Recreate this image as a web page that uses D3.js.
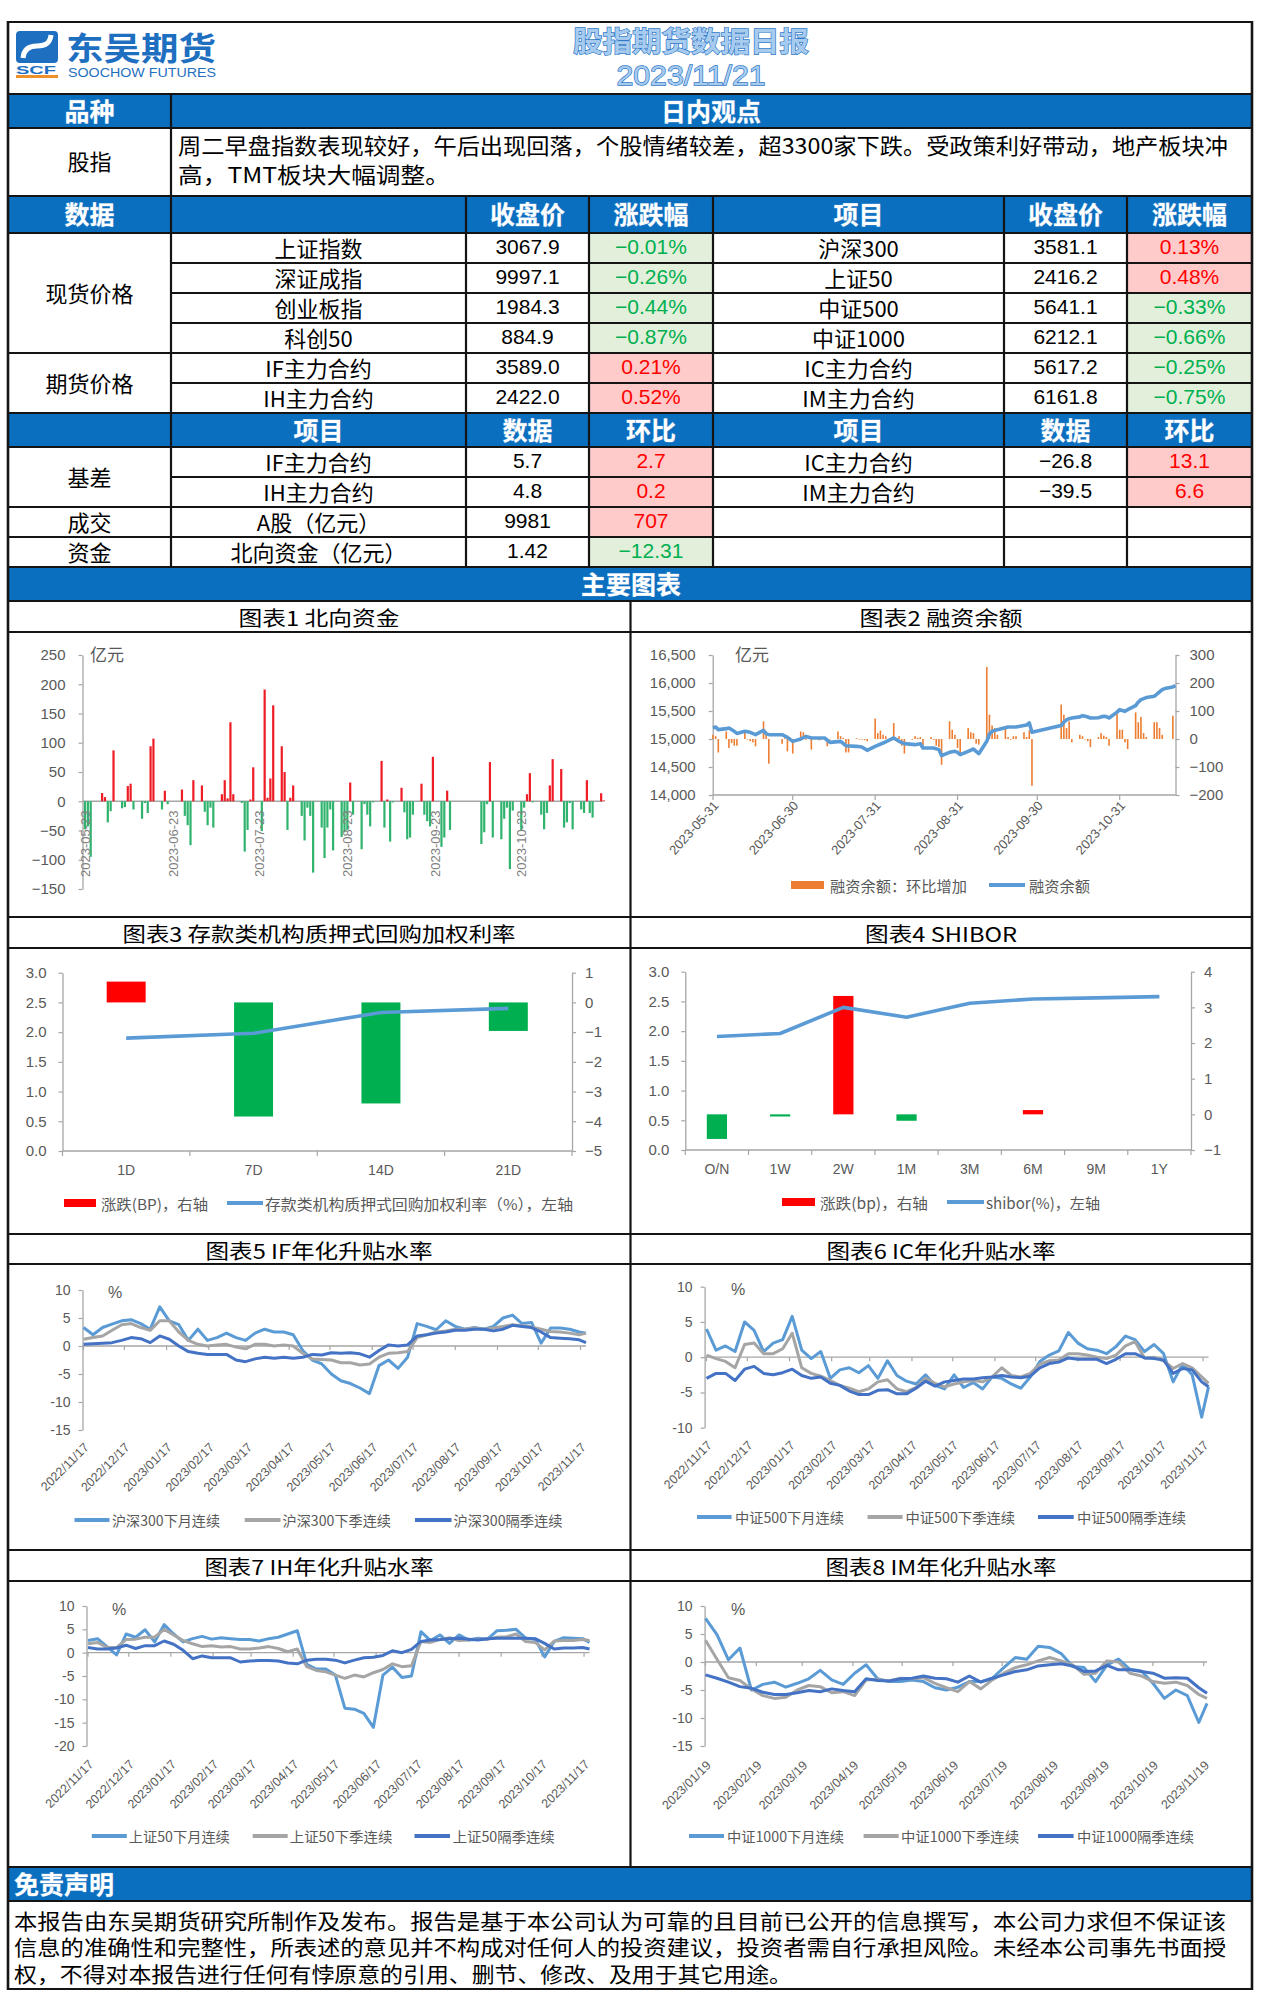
<!DOCTYPE html>
<html><head><meta charset="utf-8">
<script src="https://cdn.jsdelivr.net/npm/d3@7/dist/d3.min.js"></script>
<style>html,body{margin:0;padding:0;background:#fff;}svg{display:block;}</style>
</head><body>
<svg id="page" width="1262" height="2011" xmlns="http://www.w3.org/2000/svg"></svg>
<script>
// ======================= DATA =======================
// --- table
const spotL = ["上证指数","深证成指","创业板指","科创50"];
const spotLClose = [3067.9, 9997.1, 1984.3, 884.9];
const spotLChg = [-0.01, -0.26, -0.44, -0.87];
const spotR = ["沪深300","上证50","中证500","中证1000"];
const spotRClose = [3581.1, 2416.2, 5641.1, 6212.1];
const spotRChg = [0.13, 0.48, -0.33, -0.66];
const futL = ["IF主力合约","IH主力合约"];
const futLClose = [3589.0, 2422.0];
const futLChg = [0.21, 0.52];
const futR = ["IC主力合约","IM主力合约"];
const futRClose = [5617.2, 6161.8];
const futRChg = [-0.25, -0.75];
const basisL = ["IF主力合约","IH主力合约"];
const basisLVal = [5.7, 4.8];
const basisLChg = [2.7, 0.2];
const basisR = ["IC主力合约","IM主力合约"];
const basisRVal = [-26.8, -39.5];
const basisRChg = [13.1, 6.6];
const turnoverRow = ["A股（亿元）", 9981, 707];
const northRow = ["北向资金（亿元）", 1.42, -12.31];
const viewText1 = "周二早盘指数表现较好，午后出现回落，个股情绪较差，超3300家下跌。受政策利好带动，地产板块冲";
const viewText2 = "高，TMT板块大幅调整。";
const disclaimer = [
 "本报告由东吴期货研究所制作及发布。报告是基于本公司认为可靠的且目前已公开的信息撰写，本公司力求但不保证该",
 "信息的准确性和完整性，所表述的意见并不构成对任何人的投资建议，投资者需自行承担风险。未经本公司事先书面授",
 "权，不得对本报告进行任何有悖原意的引用、删节、修改、及用于其它用途。"];

// --- chart 1 北向资金 (2023, 亿元)
const northFlow = [
 ["05-23",-48],["05-24",-43],["05-25",-95],["05-29",14],["05-30",7],["05-31",-36],
 ["06-01",-17],["06-02",87],["06-05",-12],["06-06",-10],["06-07",26],["06-08",30],["06-09",-14],["06-12",-30],["06-13",-3],["06-14",-20],["06-15",94],["06-16",107],["06-19",-14],["06-20",18],["06-21",-5],["06-26",20],["06-27",-25],["06-28",-41],["06-29",-75],["06-30",36],
 ["07-03",27],["07-04",-18],["07-05",-41],["07-06",-11],["07-07",-45],["07-10",12],["07-11",36],["07-12",5],["07-13",135],["07-14",12],["07-17",-3],["07-18",-86],["07-19",-49],["07-20",3],["07-21",58],["07-24",-51],["07-25",191],["07-26",6],["07-27",39],["07-28",164],["07-31",94],
 ["08-01",50],["08-02",-49],["08-03",6],["08-04",27],["08-07",-25],["08-08",-67],["08-09",-11],["08-10",-25],["08-11",-122],["08-14",-45],["08-15",-97],["08-16",-45],["08-17",-14],["08-18",-84],["08-21",-61],["08-22",-53],["08-23",-49],["08-24",32],["08-25",-23],["08-28",-82],["08-29",-5],["08-30",-23],["08-31",-43],
 ["09-01",-2],["09-04",69],["09-05",-45],["09-06",3],["09-07",-69],["09-08",-2],["09-11",23],["09-12",-19],["09-13",-65],["09-14",-62],["09-15",-23],["09-18",30],["09-19",-23],["09-20",-34],["09-21",-43],["09-22",76],["09-25",-78],["09-26",-62],["09-27",18],["09-28",-49],
 ["10-09",-73],["10-10",-53],["10-11",-5],["10-12",67],["10-13",-62],["10-16",-65],["10-17",-30],["10-18",-11],["10-19",-116],["10-20",-16],["10-23",-49],["10-24",-11],["10-25",12],["10-26",48],["10-27",-2],["10-30",-23],["10-31",-48],
 ["11-01",-20],["11-02",27],["11-03",72],["11-06",55],["11-07",-45],["11-08",-36],["11-09",-3],["11-10",-48],["11-13",-14],["11-14",-20],["11-15",36],["11-16",-20],["11-17",-28],["11-20",13.73],["11-21",1.42]];
const northTicks = [-150,-100,-50,0,50,100,150,200,250];
const northLabels = ["2023-05-23","2023-06-23","2023-07-23","2023-08-23","2023-09-23","2023-10-23"];

// --- chart 2 融资余额 (2023)
const marginChg = [
 ["05-31",15],["06-01",10],["06-02",-48],["06-05",27],["06-06",-32],["06-07",-14],["06-08",-24],["06-09",-24],["06-12",27],["06-13",-2],["06-14",-8],["06-15",-12],["06-16",-26],["06-19",63],["06-20",27],["06-21",-88],["06-26",-17],["06-27",3],["06-28",-44],["06-29",5],["06-30",-52],
 ["07-03",27],["07-04",24],["07-05",-3],["07-06",2],["07-07",-38],["07-10",-5],["07-11",4],["07-12",2],["07-13",-26],["07-14",-2],["07-17",27],["07-18",10],["07-19",4],["07-20",-48],["07-21",-48],["07-24",3],["07-25",-2],["07-26",-2],["07-27",-4],["07-28",-8],["07-31",73],
 ["08-01",21],["08-02",30],["08-03",15],["08-04",10],["08-07",57],["08-08",3],["08-09",10],["08-10",-24],["08-11",-52],["08-14",-3],["08-15",10],["08-16",4],["08-17",7],["08-18",-24],["08-21",7],["08-22",-3],["08-23",-24],["08-24",-29],["08-25",-92],["08-28",63],["08-29",33],["08-30",15],["08-31",-32],
 ["09-01",-52],["09-04",39],["09-05",24],["09-06",21],["09-07",-17],["09-08",-20],["09-11",257],["09-12",87],["09-13",48],["09-14",39],["09-15",15],["09-18",39],["09-19",7],["09-20",-3],["09-21",10],["09-22",10],["09-25",24],["09-26",7],["09-27",31],["09-28",-167],
 ["10-09",123],["10-10",87],["10-11",39],["10-12",63],["10-13",-12],["10-16",15],["10-17",10],["10-18",-2],["10-19",-8],["10-20",-29],["10-23",7],["10-24",21],["10-25",12],["10-26",7],["10-27",-24],["10-30",102],["10-31",33],
 ["11-01",33],["11-02",-12],["11-03",-36],["11-06",95],["11-07",60],["11-08",79],["11-09",21],["11-10",7],["11-13",60],["11-14",60],["11-15",39],["11-16",15],["11-17",0],["11-20",83]];
const marginBal = [
 ["05-31",15196],["06-01",15214],["06-02",15167],["06-05",15185],["06-06",15196],["06-08",15137],["06-09",15100],["06-12",15137],["06-14",15119],["06-16",15077],["06-19",15155],["06-20",15095],["06-21",15077],["06-26",15077],["06-28",15030],["06-30",14958],
 ["07-03",15000],["07-05",15047],["07-07",15018],["07-12",15018],["07-14",14940],["07-18",14958],["07-20",14880],["07-24",14869],["07-26",14857],["07-28",14798],["07-31",14869],
 ["08-03",14928],["08-07",15018],["08-09",14958],["08-11",14917],["08-15",14899],["08-17",14917],["08-18",14839],["08-22",14839],["08-24",14810],["08-25",14702],["08-28",14762],["08-30",14780],["08-31",14760],
 ["09-01",14720],["09-04",14780],["09-06",14821],["09-08",14738],["09-11",14958],["09-12",15090],["09-13",15137],["09-15",15167],["09-19",15214],["09-22",15214],["09-26",15250],["09-27",15286],["09-28",15119],
 ["10-09",15240],["10-10",15300],["10-11",15340],["10-12",15363],["10-13",15375],["10-16",15395],["10-17",15417],["10-18",15405],["10-19",15393],["10-20",15375],["10-23",15380],["10-24",15395],["10-25",15405],["10-26",15400],["10-27",15375],["10-30",15480],["10-31",15524],
 ["11-01",15510],["11-02",15494],["11-03",15524],["11-06",15595],["11-07",15660],["11-08",15702],["11-09",15720],["11-10",15740],["11-13",15762],["11-14",15800],["11-15",15840],["11-16",15881],["11-17",15900],["11-20",15930],["11-21",15952]];
const marginLeftTicks = [14000,14500,15000,15500,16000,16500];
const marginRightTicks = [-200,-100,0,100,200,300];
const marginLabels = ["2023-05-31","2023-06-30","2023-07-31","2023-08-31","2023-09-30","2023-10-31"];

// --- chart 3 存款类机构质押式回购加权利率
const drTerms = ["1D","7D","14D","21D"];
const drRate = [1.90, 1.98, 2.33, 2.40];
const drChg = [0.70, -3.84, -3.40, -0.96];

// --- chart 4 SHIBOR
const shTerms = ["O/N","1W","2W","1M","3M","6M","9M","1Y"];
const shRate = [1.91, 1.96, 2.40, 2.235, 2.47, 2.54, 2.56, 2.58];
const shChg = [-0.69, -0.06, 3.32, -0.18, 0, 0.12, 0, 0];

// --- charts 5-7 weekly sample dates
const futDates = ["2022-11-17","2022-11-24","2022-12-01","2022-12-08","2022-12-15","2022-12-22","2022-12-29",
 "2023-01-05","2023-01-12","2023-01-19","2023-01-26","2023-02-02","2023-02-09","2023-02-16","2023-02-23",
 "2023-03-02","2023-03-09","2023-03-16","2023-03-23","2023-03-30","2023-04-06","2023-04-13","2023-04-20","2023-04-27",
 "2023-05-04","2023-05-11","2023-05-18","2023-05-25","2023-06-01","2023-06-08","2023-06-15","2023-06-22","2023-06-29",
 "2023-07-06","2023-07-13","2023-07-20","2023-07-27","2023-08-03","2023-08-10","2023-08-17","2023-08-24","2023-08-31",
 "2023-09-07","2023-09-14","2023-09-21","2023-09-28","2023-10-05","2023-10-12","2023-10-19","2023-10-26",
 "2023-11-02","2023-11-09","2023-11-16","2023-11-21"];
const futLabels = ["2022-11-17","2022-12-17","2023-01-17","2023-02-17","2023-03-17","2023-04-17","2023-05-17",
 "2023-06-17","2023-07-17","2023-08-17","2023-09-17","2023-10-17","2023-11-17"];
const ifNext = [3.3,2.0,3.3,3.9,4.5,4.7,4.0,3.0,7.0,4.5,3.8,1.0,3.0,1.0,1.5,2.3,1.5,1.0,2.3,3.0,2.5,2.5,2.0,-0.8,-2.5,-3.2,-5.0,-6.2,-6.7,-7.5,-8.5,-3.5,-2.5,-4.0,-2.0,4.0,3.5,2.9,4.5,3.5,3.0,3.3,3.0,3.5,5.0,5.5,4.0,4.2,0.5,3.2,3.2,3.0,2.5,2.3];
const ifQtr = [1.2,1.5,1.8,2.8,3.8,4.0,3.3,2.8,4.5,4.5,2.5,1.0,0.3,0.0,0.2,0.3,-0.2,-0.5,0.3,0.3,0.0,0.2,0.0,-1.3,-2.3,-2.4,-2.5,-3.0,-3.0,-3.4,-3.2,-2.0,-1.3,-1.2,-1.0,1.5,2.0,2.5,2.7,3.0,3.0,3.2,3.0,3.2,3.5,3.8,3.6,3.4,3.0,2.6,2.5,2.3,2.0,2.3];
const ifFar = [0.3,0.4,0.5,0.6,1.0,1.5,1.3,0.6,1.8,1.2,0.0,-1.0,-1.3,-1.5,-1.5,-1.5,-2.5,-2.8,-2.3,-2.0,-2.2,-2.0,-2.2,-2.0,-1.5,-1.6,-1.2,-1.3,-1.2,-1.4,-2.0,-0.8,0.2,0.0,0.2,1.8,2.0,2.3,2.5,2.8,2.8,3.0,3.0,2.7,3.0,3.7,3.5,3.3,2.5,1.5,1.4,1.3,1.1,0.6];
const icNext = [4.0,1.0,1.6,0.8,5.0,3.8,0.8,2.0,2.5,5.8,1.0,-0.2,0.8,-3.0,-1.8,-1.5,-2.2,-1.2,-3.0,-0.5,-2.6,-3.4,-3.8,-2.5,-4.0,-4.5,-2.5,-4.3,-3.6,-4.5,-2.8,-3.0,-3.8,-4.4,-2.8,-0.6,0.3,0.9,3.5,2.0,1.2,1.0,0.5,1.5,3.0,2.5,0.8,1.8,0.5,-3.5,-1.0,-2.5,-8.5,-4.2];
const icQtr = [0.3,-0.2,-0.6,-1.5,1.8,2.0,0.5,0.5,1.2,3.4,-1.5,-2.3,-2.7,-3.3,-4.0,-4.4,-4.9,-4.5,-3.5,-3.2,-4.5,-4.9,-4.3,-3.0,-3.7,-4.2,-3.8,-3.5,-3.3,-3.5,-2.8,-1.5,-2.6,-2.8,-2.3,-1.0,-0.5,-0.4,0.5,0.5,0.3,0.0,-0.2,0.3,1.6,2.2,-0.1,0.0,-0.5,-1.6,-0.9,-1.5,-2.8,-3.7];
const icFar = [-3.0,-2.3,-2.3,-3.3,-1.7,-1.3,-2.3,-2.5,-2.2,-1.7,-2.6,-3.0,-2.8,-3.7,-4.0,-4.8,-5.3,-5.3,-4.7,-4.6,-5.2,-5.2,-4.4,-3.4,-4.1,-3.5,-3.3,-3.1,-3.1,-2.9,-2.8,-2.6,-2.8,-2.9,-2.7,-1.5,-0.9,-0.7,-0.1,-0.3,-0.3,-0.3,-0.9,-0.3,0.5,0.5,-0.1,-0.2,-0.4,-2.3,-1.6,-1.8,-3.5,-4.2];
const ihNext = [2.6,3.0,1.3,-0.5,4.0,3.3,4.9,2.3,6.0,4.0,2.3,3.0,3.5,2.9,3.2,3.0,2.8,2.8,2.5,3.0,3.3,4.0,4.7,-2.5,-3.5,-3.5,-4.8,-11.9,-12.1,-13.0,-16.0,-4.8,-3.1,-5.3,-5.0,4.5,2.6,3.8,2.0,3.8,2.7,3.1,2.9,4.7,4.8,5.0,3.1,2.9,-0.9,2.4,3.2,3.1,3.0,2.2];
const ihQtr = [1.9,2.2,1.1,1.1,2.8,2.9,3.3,3.3,5.0,3.8,2.6,1.9,1.3,1.5,1.2,1.3,0.8,0.8,1.0,1.3,0.9,0.2,0.8,-3.0,-3.8,-4.1,-4.8,-5.5,-4.8,-5.2,-4.3,-3.6,-2.4,-3.0,-2.8,2.4,2.2,2.8,3.2,2.6,2.7,2.9,2.9,3.3,3.4,4.0,2.4,2.2,0.6,2.5,2.6,2.6,2.8,2.6];
const ihFar = [1.1,0.8,0.8,1.0,1.6,0.9,1.5,1.5,2.5,1.8,0.5,-1.3,-0.7,-1.1,-1.1,-1.1,-2.0,-1.8,-1.7,-1.7,-1.8,-2.2,-2.4,-1.6,-1.4,-1.4,-1.6,-2.2,-1.6,-1.1,-1.0,-0.6,0.4,0.0,0.7,2.4,2.7,2.8,3.0,3.1,2.9,2.7,3.0,3.1,3.1,3.1,3.1,3.0,2.0,0.8,1.0,1.0,1.1,0.8];

// --- chart 8 weekly sample dates
const imDates = ["2023-01-19","2023-01-26","2023-02-02","2023-02-09","2023-02-16","2023-02-23",
 "2023-03-02","2023-03-09","2023-03-16","2023-03-23","2023-03-30","2023-04-06","2023-04-13","2023-04-20","2023-04-27",
 "2023-05-04","2023-05-11","2023-05-18","2023-05-25","2023-06-01","2023-06-08","2023-06-15","2023-06-22","2023-06-29",
 "2023-07-06","2023-07-13","2023-07-20","2023-07-27","2023-08-03","2023-08-10","2023-08-17","2023-08-24","2023-08-31",
 "2023-09-07","2023-09-14","2023-09-21","2023-09-28","2023-10-05","2023-10-12","2023-10-19","2023-10-26",
 "2023-11-02","2023-11-09","2023-11-16","2023-11-21"];
const imLabels = ["2023-01-19","2023-02-19","2023-03-19","2023-04-19","2023-05-19","2023-06-19","2023-07-19",
 "2023-08-19","2023-09-19","2023-10-19","2023-11-19"];
const imNext = [7.8,4.9,0.4,2.5,-5.0,-4.0,-3.6,-4.5,-3.8,-3.0,-1.5,-3.2,-4.0,-2.0,-0.5,-3.0,-3.5,-3.5,-3.2,-3.5,-4.6,-5.0,-4.5,-3.5,-3.5,-2.9,-1.0,0.8,0.5,2.8,2.6,1.5,-0.8,-1.0,-3.5,-0.5,0.5,-1.3,-1.6,-3.8,-6.5,-5.0,-6.0,-10.8,-7.4];
const imQtr = [3.9,0.5,-2.8,-3.3,-4.8,-6.0,-6.5,-6.3,-5.0,-4.2,-4.4,-5.5,-5.3,-6.0,-3.2,-3.1,-3.4,-2.9,-3.0,-2.8,-3.8,-4.6,-5.3,-3.5,-4.8,-3.2,-2.0,-1.0,-0.5,0.2,0.8,0.2,-0.5,-2.2,-2.0,0.2,0.0,-2.0,-2.5,-3.5,-3.8,-3.6,-4.2,-5.8,-6.5];
const imFar = [-2.3,-2.9,-3.6,-4.4,-4.7,-5.4,-5.8,-5.8,-5.5,-5.1,-5.3,-4.8,-5.1,-5.3,-3.0,-3.3,-3.4,-3.0,-2.9,-2.5,-2.9,-3.0,-3.6,-2.5,-3.6,-2.9,-2.3,-1.7,-1.4,-0.7,-0.5,-0.3,-0.7,-1.7,-1.6,-0.6,-1.4,-1.4,-1.7,-2.0,-2.9,-2.8,-2.9,-4.6,-5.6];

// ======================= DRAWING =======================
const parse = d3.timeParse("%Y-%m-%d");
const CJK = "'Noto Sans CJK SC','Noto Sans',sans-serif";
const LAT = "'Liberation Sans','Noto Sans CJK SC',sans-serif";
const BLUE = "#0b6fc0", AXC = "#a6a6a6", LBL = "#595959";
const C_NEXT = "#5b9bd5", C_QTR = "#a5a5a5", C_FAR = "#4472c4";
const svg = d3.select("#page");
svg.append("rect").attr("width",1262).attr("height",2011).attr("fill","#fff");

function T(p, x, y, s, o = {}) {
  const t = p.append("text").attr("x", x).attr("y", y).text(s)
    .attr("font-family", o.ff || CJK).attr("font-size", o.fs || 22)
    .attr("fill", o.fill || "#000").attr("text-anchor", o.anchor || "middle")
    .attr("dominant-baseline", "central");
  if (o.fw) t.attr("font-weight", o.fw);
  if (o.tl) t.attr("textLength", o.tl).attr("lengthAdjust", "spacingAndGlyphs");
  if (o.stroke) t.attr("stroke", o.stroke).attr("stroke-width", o.sw || 1).attr("paint-order","stroke");
  return t;
}
function R(p, x, y, w, h, fill) { return p.append("rect").attr("x", x).attr("y", y).attr("width", w).attr("height", h).attr("fill", fill); }
function L(p, x1, y1, x2, y2, stroke, sw) { return p.append("line").attr("x1", x1).attr("y1", y1).attr("x2", x2).attr("y2", y2).attr("stroke", stroke).attr("stroke-width", sw); }
const fmtSigned = (v, d) => (v < 0 ? "−" : "") + Math.abs(v).toFixed(d);

// ---------- header ----------
const logo = svg.append("g");
R(logo, 16, 31, 42, 32, "#1f6fc1").attr("rx", 4);
logo.append("path").attr("d", "M23,58 C24,47 32,46 37,46 C43,46 50,45 51,35").attr("fill", "none").attr("stroke", "#fff").attr("stroke-width", 5);
T(logo, 16, 70, "SCF", { ff: LAT, fs: 11, fw: "bold", fill: "#1f6fc1", anchor: "start", tl: 40 });
R(logo, 16, 75, 42, 3, "#f0902a");
T(logo, 66, 46, "东吴期货", { fs: 32, fw: "bold", fill: "#1f6fc1", anchor: "start", tl: 150 });
T(logo, 68, 73, "SOOCHOW FUTURES", { ff: LAT, fs: 12, fill: "#1f6fc1", anchor: "start", tl: 148 });
T(svg, 691, 40, "股指期货数据日报", { fs: 28, fw: "bold", fill: "#a7cbef", stroke: "#2f78c6", sw: 1.3, tl: 236 });
T(svg, 691, 75, "2023/11/21", { ff: LAT, fs: 28, fill: "#a7cbef", stroke: "#2f78c6", sw: 1.3, tl: 149 });

// ---------- table ----------
const colX = [8, 171, 466, 589, 713, 1004, 1127, 1252];
const colC = colX.slice(0, -1).map((x, i) => (x + colX[i + 1]) / 2);
const rowY = [196, 233, 263, 293, 323, 353, 383, 413, 447, 477, 507, 537, 567];
const rowC = rowY.slice(0, -1).map((y, i) => (y + rowY[i + 1]) / 2 - 1.5);

R(svg, 8, 94, 1244, 34, BLUE);
R(svg, 8, 196, 1244, 37, BLUE);
R(svg, 8, 413, 1244, 34, BLUE);
R(svg, 8, 567, 1244, 34, BLUE);
R(svg, 8, 1867, 1244, 34, BLUE);

const HW = { fs: 25, fw: "bold", fill: "#fff", stroke: "#5b9bd5", sw: 0.8 };
T(svg, colC[0], 110, "品种", HW);
T(svg, 711, 110, "日内观点", HW);
T(svg, colC[0], 160, "股指", { fs: 22 });
T(svg, 178, 144, viewText1, { fs: 22, anchor: "start", tl: 1050 });
T(svg, 178, 173, viewText2, { fs: 22, anchor: "start", tl: 272 });

["数据", "", "收盘价", "涨跌幅", "项目", "收盘价", "涨跌幅"].forEach((s, i) => s && T(svg, colC[i], rowC[0], s, HW));
["", "项目", "数据", "环比", "项目", "数据", "环比"].forEach((s, i) => s && T(svg, colC[i], rowC[7], s, HW));

function chgCell(ci, ri, v, txt) {
  const pos = v >= 0;
  R(svg, colX[ci] + 1, rowY[ri] + 1, colX[ci + 1] - colX[ci] - 2, rowY[ri + 1] - rowY[ri] - 2, pos ? "#ffcaca" : "#e2efda");
  T(svg, colC[ci], rowC[ri], txt, { ff: LAT, fs: 21, fill: pos ? "#ff0000" : "#00b050" });
}
const cellTxt = (ci, ri, s, lat) => T(svg, colC[ci], rowC[ri], s, { ff: lat ? LAT : CJK, fs: lat ? 21 : 22 });

spotL.forEach((n, i) => {
  cellTxt(1, 1 + i, n); cellTxt(2, 1 + i, spotLClose[i].toFixed(1), true);
  chgCell(3, 1 + i, spotLChg[i], fmtSigned(spotLChg[i], 2) + "%");
  cellTxt(4, 1 + i, spotR[i]); cellTxt(5, 1 + i, spotRClose[i].toFixed(1), true);
  chgCell(6, 1 + i, spotRChg[i], fmtSigned(spotRChg[i], 2) + "%");
});
futL.forEach((n, i) => {
  cellTxt(1, 5 + i, n); cellTxt(2, 5 + i, futLClose[i].toFixed(1), true);
  chgCell(3, 5 + i, futLChg[i], fmtSigned(futLChg[i], 2) + "%");
  cellTxt(4, 5 + i, futR[i]); cellTxt(5, 5 + i, futRClose[i].toFixed(1), true);
  chgCell(6, 5 + i, futRChg[i], fmtSigned(futRChg[i], 2) + "%");
});
basisL.forEach((n, i) => {
  cellTxt(1, 8 + i, n); cellTxt(2, 8 + i, fmtSigned(basisLVal[i], 1), true);
  chgCell(3, 8 + i, basisLChg[i], fmtSigned(basisLChg[i], 1));
  cellTxt(4, 8 + i, basisR[i]); cellTxt(5, 8 + i, fmtSigned(basisRVal[i], 1), true);
  chgCell(6, 8 + i, basisRChg[i], fmtSigned(basisRChg[i], 1));
});
cellTxt(1, 10, turnoverRow[0]); cellTxt(2, 10, String(turnoverRow[1]), true); chgCell(3, 10, turnoverRow[2], String(turnoverRow[2]));
cellTxt(1, 11, northRow[0]); cellTxt(2, 11, northRow[1].toFixed(2), true); chgCell(3, 11, northRow[2], fmtSigned(northRow[2], 2));
T(svg, colC[0], (rowY[1] + rowY[5]) / 2 - 1.5, "现货价格", { fs: 22 });
T(svg, colC[0], (rowY[5] + rowY[7]) / 2 - 1.5, "期货价格", { fs: 22 });
T(svg, colC[0], (rowY[8] + rowY[10]) / 2 - 1.5, "基差", { fs: 22 });
T(svg, colC[0], rowC[10], "成交", { fs: 22 });
T(svg, colC[0], rowC[11], "资金", { fs: 22 });
T(svg, 631, 583, "主要图表", HW);
T(svg, 14, 1883, "免责声明", { fs: 25, fw: "bold", fill: "#fff", stroke: "#5b9bd5", sw: 0.8, anchor: "start" });
[1920, 1946, 1973].forEach((y, i) => T(svg, 14, y, disclaimer[i], { fs: 21, anchor: "start", tl: i < 2 ? 1212 : 778 }));

// grid lines
const BK = "#141414";
[22, 94, 128, 196, 233, 353, 413, 447, 507, 537, 567, 601, 632, 917, 948, 1234, 1264, 1550, 1581, 1867, 1901, 1989]
  .forEach(y => L(svg, 8, y, 1252, y, BK, 2.2));
[263, 293, 323, 383, 477].forEach(y => L(svg, 171, y, 1252, y, BK, 2.2));
L(svg, 8, 21, 8, 1990, BK, 2.6); L(svg, 1252, 21, 1252, 1990, BK, 2.6);
L(svg, 171, 94, 171, 567, BK, 2.2);
[466, 589, 713, 1004, 1127].forEach(x => L(svg, x, 196, x, 567, BK, 2.2));
L(svg, 630.5, 601, 630.5, 1867, BK, 2.2);

// chart titles
[[319, 617, "图表1 北向资金", 161], [941, 617, "图表2 融资余额", 163],
 [319, 933, "图表3 存款类机构质押式回购加权利率", 393], [941, 933, "图表4 SHIBOR", 152],
 [319, 1250, "图表5 IF年化升贴水率", 227], [941, 1250, "图表6 IC年化升贴水率", 229],
 [319, 1566, "图表7 IH年化升贴水率", 229], [941, 1566, "图表8 IM年化升贴水率", 231]]
  .forEach(([x, y, s, w]) => T(svg, x, y, s, { fs: 20, tl: w }));

// ---------- axis helper ----------
function yAxis(p, scale, x, side, ticks, fmt, pad, fs) {
  const ax = (side === "left" ? d3.axisLeft(scale) : d3.axisRight(scale))
    .tickValues(ticks).tickFormat(fmt).tickSize(4).tickSizeOuter(0).tickPadding(pad);
  const a = p.append("g").attr("transform", `translate(${x},0)`).call(ax);
  a.select(".domain").attr("stroke", AXC).attr("stroke-width", 1.3);
  a.selectAll(".tick line").attr("stroke", AXC).attr("stroke-width", 1.2);
  a.selectAll(".tick text").attr("fill", LBL).attr("font-family", LAT).attr("font-size", fs);
  return a;
}
const minusFmt = d => (d < 0 ? "−" : "") + Math.abs(d);

// ---------- chart 1 ----------
{
  const g = svg.append("g");
  const x = d3.scaleTime().domain([parse("2023-05-23"), parse("2023-11-21")]).range([85, 604]);
  const y = d3.scaleLinear().domain([-150, 250]).range([889, 655]);
  yAxis(g, y, 82.5, "left", northTicks, minusFmt, 13, 15);
  L(g, 82.5, y(0), 603, y(0), AXC, 1.3);
  g.selectAll(".nb").data(northFlow).enter().append("rect")
    .attr("x", d => x(parse("2023-" + d[0])) - 1.1).attr("width", 2.2)
    .attr("y", d => y(Math.max(0, d[1]))).attr("height", d => Math.abs(y(d[1]) - y(0)))
    .attr("fill", d => d[1] >= 0 ? "#ee1c25" : "#2fb36d");
  g.selectAll(".nbl").data(northLabels).enter().append("text")
    .attr("transform", d => `translate(${x(parse(d))},877) rotate(-90)`).attr("dy", "0.35em")
    .attr("text-anchor", "start").attr("font-family", LAT).attr("font-size", 13).attr("fill", "#7f7f7f").text(d => d);
  T(g, 90, 653, "亿元", { fs: 17, fill: LBL, anchor: "start" });
}

// ---------- chart 2 ----------
{
  const g = svg.append("g");
  const x = d3.scaleTime().domain([parse("2023-05-31"), parse("2023-11-21")]).range([713, 1175.5]);
  const yl = d3.scaleLinear().domain([14000, 16500]).range([795, 655]);
  const yr = d3.scaleLinear().domain([-200, 300]).range([795, 655]);
  yAxis(g, yl, 712.7, "left", marginLeftTicks, d3.format(","), 13, 15);
  yAxis(g, yr, 1175.5, "right", marginRightTicks, minusFmt, 10, 15);
  L(g, 712.7, 795, 1175.5, 795, AXC, 1.3);
  marginLabels.forEach(d => L(g, x(parse(d)), 795, x(parse(d)), 800, AXC, 1.2));
  g.selectAll(".mc").data(marginChg).enter().append("rect")
    .attr("x", d => x(parse("2023-" + d[0])) - 0.8).attr("width", 1.6)
    .attr("y", d => yr(Math.max(0, d[1]))).attr("height", d => Math.abs(yr(d[1]) - yr(0)))
    .attr("fill", "#ed7d31");
  g.append("path").datum(marginBal).attr("fill", "none").attr("stroke", C_NEXT).attr("stroke-width", 3.6)
    .attr("stroke-linejoin", "round")
    .attr("d", d3.line().x(d => x(parse("2023-" + d[0]))).y(d => yl(d[1])));
  g.selectAll(".ml").data(marginLabels).enter().append("text")
    .attr("transform", d => `translate(${x(parse(d)) + 3},803) rotate(-48)`).attr("dy", "0.35em")
    .attr("text-anchor", "end").attr("font-family", LAT).attr("font-size", 13).attr("fill", LBL).text(d => d);
  T(g, 735, 653, "亿元", { fs: 17, fill: LBL, anchor: "start" });
  R(g, 791, 881, 33, 8, "#ed7d31");
  T(g, 830, 885, "融资余额：环比增加", { fs: 15, fill: LBL, anchor: "start", tl: 137 });
  L(g, 989, 885, 1025, 885, C_NEXT, 4);
  T(g, 1029, 885, "融资余额", { fs: 15, fill: LBL, anchor: "start", tl: 61 });
}

// ---------- bar+line category chart helper (charts 3,4) ----------
function catChart(o) {
  const g = svg.append("g");
  const x = d3.scaleBand().domain(o.cats).range([o.x0, o.x1]);
  const yl = d3.scaleLinear().domain([0, 3]).range([o.yb, o.yt]);
  const yr = d3.scaleLinear().domain(o.rDom).range([o.yb, o.yt]);
  yAxis(g, yl, o.x0, "left", [0, 0.5, 1, 1.5, 2, 2.5, 3], d3.format(".1f"), 12, 15);
  yAxis(g, yr, o.x1, "right", d3.range(o.rDom[0], o.rDom[1] + 1), minusFmt, 9, 15);
  L(g, o.x0, o.yb, o.x1, o.yb, AXC, 1.3);
  d3.range(o.cats.length + 1).forEach(i => { const xx = o.x0 + i * x.bandwidth(); L(g, xx, o.yb, xx, o.yb + 5, AXC, 1.2); });
  const bw = x.bandwidth() * o.barFrac;
  g.selectAll(".b").data(o.cats).enter().append("rect")
    .attr("x", d => x(d) + x.bandwidth() / 2 - bw / 2).attr("width", bw)
    .attr("y", (d, i) => yr(Math.max(0, o.chg[i]))).attr("height", (d, i) => Math.abs(yr(o.chg[i]) - yr(0)))
    .attr("fill", (d, i) => o.chg[i] >= 0 ? "#ff0000" : "#00b050");
  g.append("path").datum(o.cats).attr("fill", "none").attr("stroke", C_NEXT).attr("stroke-width", 3.6)
    .attr("stroke-linejoin", "round")
    .attr("d", d3.line().x(d => x(d) + x.bandwidth() / 2).y((d, i) => yl(o.rate[i])));
  o.cats.forEach(c => T(g, x(c) + x.bandwidth() / 2, o.yb + 19, c, { ff: LAT, fs: 14, fill: LBL }));
  const lg = o.legend;
  R(g, lg[0], lg[4] - 4, lg[1] - lg[0], 8, "#ff0000");
  T(g, lg[1] + 5, lg[4], o.lt1, { fs: 15, fill: LBL, anchor: "start", tl: lg[2] - lg[1] - 5 });
  L(g, lg[2] + 19, lg[4], lg[3] - 2, lg[4], C_NEXT, 4);
  T(g, lg[3], lg[4], o.lt2, { fs: 15, fill: LBL, anchor: "start", tl: o.lt2w });
}
catChart({ cats: drTerms, rate: drRate, chg: drChg, x0: 62.5, x1: 572, yb: 1151, yt: 972.7, rDom: [-5, 1], barFrac: 0.306,
  legend: [64, 96, 208, 265, 1203], lt1: "涨跌(BP)，右轴", lt2: "存款类机构质押式回购加权利率（%），左轴", lt2w: 308 });
catChart({ cats: shTerms, rate: shRate, chg: shChg, x0: 685.3, x1: 1191, yb: 1150, yt: 971.7, rDom: [-1, 4], barFrac: 0.32,
  legend: [782, 815, 928, 986, 1202], lt1: "涨跌(bp)，右轴", lt2: "shibor(%)，左轴", lt2w: 114 });

// ---------- time-series charts 5-8 ----------
function tsChart(o) {
  const g = svg.append("g");
  const x = d3.scaleTime().domain([parse(o.dates[0]), parse(o.dates[o.dates.length - 1])]).range([o.x0, o.x1]);
  const y = d3.scaleLinear().domain(o.yDom).range(o.yRng);
  yAxis(g, y, o.axisX, "left", d3.range(o.yDom[0], o.yDom[1] + 1, 5), d => String(d), 8, 14);
  L(g, o.axisX, y(0), o.x1, y(0), AXC, 1.3);
  o.labels.forEach(d => L(g, x(parse(d)), y(0), x(parse(d)), y(0) + 4, AXC, 1.2));
  g.selectAll(".tl").data(o.labels).enter().append("text")
    .attr("transform", d => `translate(${x(parse(d)) + 3},${o.labelY}) rotate(-45)`).attr("dy", "0.35em")
    .attr("text-anchor", "end").attr("font-family", LAT).attr("font-size", 12.5).attr("fill", LBL)
    .text(d => d.replace(/-/g, "/"));
  const line = d3.line().x(d => x(d[0])).y(d => y(d[1])).curve(d3.curveLinear);
  o.series.forEach(s => {
    g.append("path").datum(o.dates.map((d, i) => [parse(d), s.vals[i]]))
      .attr("fill", "none").attr("stroke", s.color).attr("stroke-width", 3).attr("stroke-linejoin", "round")
      .attr("d", line);
  });
  T(g, o.pct[0], o.pct[1], "%", { ff: LAT, fs: 16, fill: LBL, anchor: "start" });
  o.series.forEach((s, i) => {
    const lg = o.legend[i];
    L(g, lg[0], o.legendY, lg[1], o.legendY, s.color, 4);
    T(g, lg[2], o.legendY, s.name, { fs: 14, fill: LBL, anchor: "start", tl: lg[3] });
  });
}
tsChart({ dates: futDates, labels: futLabels, x0: 83.5, x1: 586, axisX: 82.5, yDom: [-15, 10], yRng: [1430, 1290], labelY: 1445,
  pct: [108, 1292], legendY: 1520,
  series: [{ vals: ifNext, color: C_NEXT, name: "沪深300下月连续" }, { vals: ifQtr, color: C_QTR, name: "沪深300下季连续" }, { vals: ifFar, color: C_FAR, name: "沪深300隔季连续" }],
  legend: [[74.5, 109.5, 112, 108], [244.7, 280.5, 282.5, 108.5], [415, 451.5, 453.5, 109]] });
tsChart({ dates: futDates, labels: futLabels, x0: 706.5, x1: 1208.5, axisX: 704.6, yDom: [-10, 10], yRng: [1427.7, 1286.7], labelY: 1443,
  pct: [731, 1289], legendY: 1517,
  series: [{ vals: icNext, color: C_NEXT, name: "中证500下月连续" }, { vals: icQtr, color: C_QTR, name: "中证500下季连续" }, { vals: icFar, color: C_FAR, name: "中证500隔季连续" }],
  legend: [[697, 731.6, 735, 109], [867.6, 902.6, 905.5, 109.5], [1038, 1073.7, 1077, 109]] });
tsChart({ dates: futDates, labels: futLabels, x0: 88, x1: 589.5, axisX: 86.5, yDom: [-20, 10], yRng: [1746, 1606], labelY: 1762,
  pct: [112, 1609], legendY: 1836,
  series: [{ vals: ihNext, color: C_NEXT, name: "上证50下月连续" }, { vals: ihQtr, color: C_QTR, name: "上证50下季连续" }, { vals: ihFar, color: C_FAR, name: "上证50隔季连续" }],
  legend: [[91.8, 126.8, 128.8, 101], [252.7, 287.7, 289.7, 102.7], [414.5, 450, 452.7, 102]] });
tsChart({ dates: imDates, labels: imLabels, x0: 705.5, x1: 1207, axisX: 704.6, yDom: [-15, 10], yRng: [1746, 1606], labelY: 1763,
  pct: [731, 1609], legendY: 1836,
  series: [{ vals: imNext, color: C_NEXT, name: "中证1000下月连续" }, { vals: imQtr, color: C_QTR, name: "中证1000下季连续" }, { vals: imFar, color: C_FAR, name: "中证1000隔季连续" }],
  legend: [[689, 724, 727, 117], [863.6, 898.6, 901, 118], [1038, 1073.6, 1077, 117]] });
</script></body></html>
